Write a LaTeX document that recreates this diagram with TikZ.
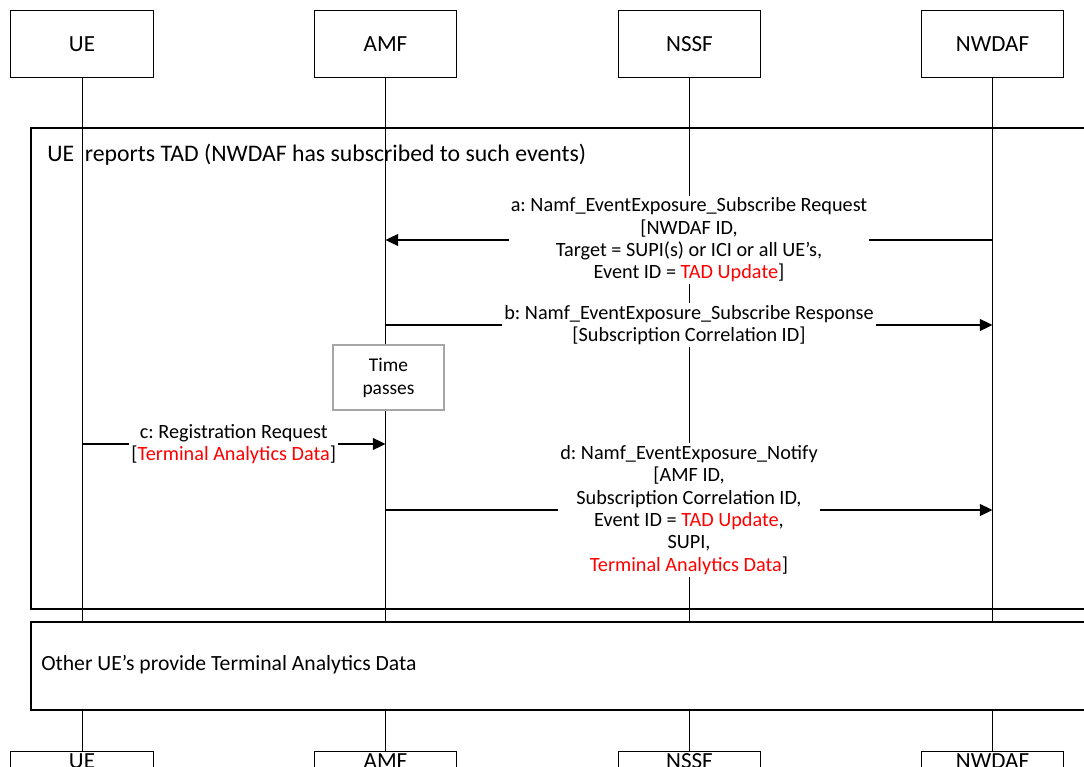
\documentclass[tikz,border=0pt]{standalone}
\usepackage{fontspec}
\setmainfont{Carlito}
\frenchspacing
\usetikzlibrary{arrows.meta}

\tikzset{
  entity/.style={draw, line width=0.7pt, minimum width=3.55cm, minimum height=1.65cm,
    font=\fontsize{16.4}{19}\selectfont},
  entitylow/.style={entity, minimum height=0pt, inner ysep=1.5pt, anchor=north},
  frame/.style={draw, line width=1.1pt},
  msg/.style={line width=0.8pt, -{Triangle[length=9pt,width=8.5pt]}},
  lbl/.style={fill=white, align=center, inner sep=1.5pt,
    font=\fontsize{14.4}{15.9}\selectfont},
  waitbox/.style={draw=gray!70, line width=1pt, fill=white, align=center,
    minimum width=2.78cm, minimum height=1.62cm, font=\fontsize{13.8}{16.3}\selectfont}
}

\begin{document}
\begin{tikzpicture}[x=0.025cm, y=-0.025cm]
\clip (0,0) rectangle (1084,767);

% entities on top and bottom, with their lifelines
\foreach \n/\x/\t in {ue/82/UE, amf/385.5/AMF, nssf/689.5/NSSF, nwdaf/992.5/NWDAF} {
  \node[entity] (\n) at (\x,44) {\t};
  \node[entitylow] (\n2) at (\x,751) {\t};
  \draw[line width=0.7pt] (\n) -- (\n2);
}

% first block
\draw[frame] (31,128) rectangle (1100,609);
\node[anchor=west, inner sep=0pt, font=\fontsize{16.9}{19}\selectfont] (tad) at (47,155)
  {UE\ \ reports TAD (NWDAF has subscribed to such events)};

\coordinate (a1) at (nwdaf |- 0,240);
\coordinate (a2) at (amf |- 0,240);
\draw[msg] (a1) -- node[lbl] {a: Namf\_EventExposure\_Subscribe Request\\
  {[}NWDAF ID,\\ Target = SUPI(s) or ICI or all UE’s,\\
  Event ID = \textcolor{red}{TAD Update}]} (a2);

\coordinate (b1) at (amf |- 0,325);
\coordinate (b2) at (nwdaf |- 0,325);
\draw[msg] (b1) -- node[lbl] {b: Namf\_EventExposure\_Subscribe Response\\
  {[}Subscription Correlation ID]} (b2);

\node[waitbox] (wait) at (388.5,377.5) {Time\\passes};

\coordinate (c1) at (ue |- 0,444);
\coordinate (c2) at (amf |- 0,444);
\draw[msg] (c1) -- node[lbl] {c: Registration Request\\
  {[}\textcolor{red}{Terminal Analytics Data}]} (c2);

\coordinate (d1) at (amf |- 0,510);
\coordinate (d2) at (nwdaf |- 0,510);
\draw[msg] (d1) -- node[lbl] {d: Namf\_EventExposure\_Notify\\ {[}AMF ID,\\
  Subscription Correlation ID,\\ Event ID = \textcolor{red}{TAD Update},\\ SUPI,\\
  \textcolor{red}{Terminal Analytics Data}]} (d2);

% second block hides the lifelines
\draw[frame, fill=white] (31,622) rectangle (1100,710);
\node[anchor=west, inner sep=0pt, font=\fontsize{15.4}{18}\selectfont] (other) at (41,665)
  {Other UE’s provide Terminal Analytics Data};
\end{tikzpicture}
\end{document}
